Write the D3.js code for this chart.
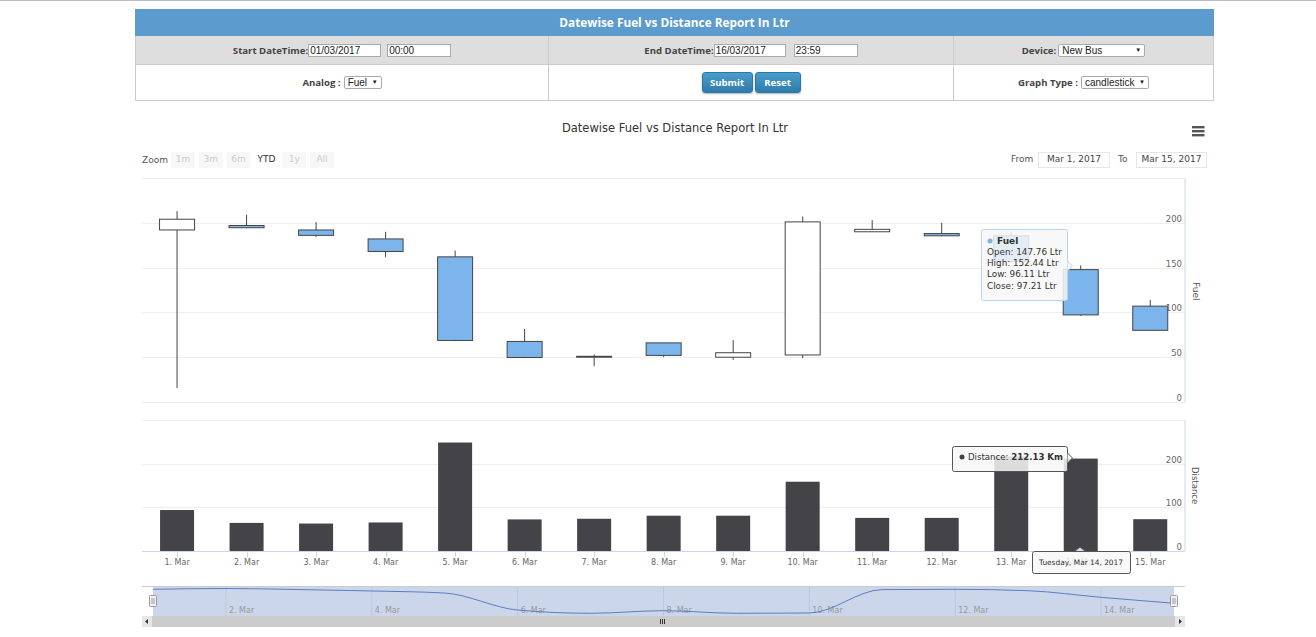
<!DOCTYPE html>
<html><head><meta charset="utf-8">
<script src="https://cdn.jsdelivr.net/npm/d3@7"></script>
<style>
html,body{margin:0;padding:0;background:#fff;overflow:hidden;width:1316px;height:637px;font-family:"DejaVu Sans",sans-serif}
#top{position:absolute;left:0;top:0;width:1316px;height:1px;background:#bbb}
#form{position:absolute;left:135px;top:9px;width:1079px;height:92px;box-sizing:border-box;border:1px solid #ccc;border-top:none}
.hd{position:absolute;left:-1px;top:0;width:1079px;height:27px;background:#5b9bcd;color:#fff;font:bold 11.8px/27px "Open Sans",sans-serif;text-align:center}
.row{position:absolute;left:0;width:1077px}
.c{position:absolute;top:0;height:100%;text-align:center;white-space:nowrap;font:bold 9.6px "Open Sans",sans-serif;color:#444;box-sizing:border-box;display:flex;align-items:center;justify-content:center}
.c+.c{border-left:1px solid #ccc}
.i{display:inline-block;box-sizing:border-box;height:13px;border:1px solid #aaa;background:#fff;font:10px/11px "Liberation Sans",sans-serif;color:#222;text-align:left;padding-left:1px;position:relative}
.sel{border-radius:2px}
.sel:after{content:"▼";position:absolute;right:3px;top:0;font-size:6px;color:#111}
.btn{display:inline-block;box-sizing:border-box;height:21px;border-radius:3px;background:linear-gradient(#4a9ccb,#2e7cad);border:1px solid #2b78a8;color:#fff;font:bold 9.6px/19px "Open Sans",sans-serif;text-align:center;box-shadow:0 1px 2px rgba(0,0,0,.3)}
svg{position:absolute;left:0;top:0}
</style></head><body>
<div id="top"></div>
<div id="form">
 <div class="hd">Datewise Fuel vs Distance Report In Ltr</div>
 <div class="row" style="top:27px;height:28px;background:#dedede;border-bottom:1px solid #ccc;box-sizing:content-box">
  <div class="c" style="left:0;width:412px">Start DateTime:<span class="i" style="width:73px">01/03/2017</span><span class="i" style="width:64px;margin-left:6px">00:00</span></div>
  <div class="c" style="left:412px;width:405px">End DateTime:<span class="i" style="width:72px">16/03/2017</span><span class="i" style="width:64px;margin-left:8px">23:59</span></div>
  <div class="c" style="left:817px;width:260px">Device:<span class="i sel" style="width:87px;margin-left:2px;padding-left:3px">New Bus</span></div>
 </div>
 <div class="row" style="top:56px;height:35px">
  <div class="c" style="left:0;width:412px">Analog :<span class="i sel" style="width:38px;margin-left:3px;padding-left:3px">Fuel</span></div>
  <div class="c" style="left:412px;width:405px"><span class="btn" style="width:51px">Submit</span><span class="btn" style="width:46px;margin-left:2px">Reset</span></div>
  <div class="c" style="left:817px;width:260px">Graph Type :<span class="i sel" style="width:68px;margin-left:3px;padding-left:3px">candlestick</span></div>
 </div>
</div>
<svg id="chart" width="1316" height="637"></svg>
<script>
const categories=["1. Mar","2. Mar","3. Mar","4. Mar","5. Mar","6. Mar","7. Mar","8. Mar","9. Mar","10. Mar","11. Mar","12. Mar","13. Mar","14. Mar","15. Mar"];
const fuelOpen =[192,197,192,182,162,67.6,51,66,50,52.5,190,188,185.5,147.76,107];
const fuelHigh =[213,209,200.8,190,169,81.5,53,66,69,207,203,200,190,152.44,114];
const fuelLow  =[15.6,194,184,161.5,68,49,40,50,47,49,190,185,157,96.11,80];
const fuelClose=[204,194.5,186,168,68.7,49.7,50,52,55,201,192.7,185.5,157,97.21,80];
const distance =[94,64.5,63,65.5,249,72.5,74,81,81,159,76,76,217,212.13,73];
const navLine  =[202.5,207.5,201,192,179,72,51.6,68,51.6,53.5,200.6,202.5,193.7,152,114.5];
const fuelTicks=[0,50,100,150,200];
const distTicks=[0,100,200];
const navLabels=["2. Mar","4. Mar","6. Mar","8. Mar","10. Mar","12. Mar","14. Mar"];

const svg=d3.select("#chart");
const FONT='"DejaVu Sans",sans-serif';
const txt=(x,y,s,o={})=>svg.append("text").attr("x",x).attr("y",y).text(s)
  .attr("font-family",FONT).attr("font-size",o.size||9).attr("fill",o.fill||"#666")
  .attr("text-anchor",o.anchor||"start").attr("font-weight",o.weight||null)
  .attr("transform",o.rot?`rotate(${o.rot} ${x} ${y})`:null);

txt(675,132,"Datewise Fuel vs Distance Report In Ltr",{size:11.5,fill:"#333",anchor:"middle"});
// menu
[126,130,134].forEach(y=>svg.append("rect").attr("x",1192).attr("y",y).attr("width",12.5).attr("height",2.4).attr("fill","#555"));
// range selector
txt(142,163,"Zoom",{size:9,fill:"#555"});
["1m","3m","6m","YTD","1y","All"].forEach((b,i)=>{
  const x=171+i*27.8;
  if(b!=="YTD")svg.append("rect").attr("x",x).attr("y",152).attr("width",24).attr("height",16).attr("fill","#f7f7f7");
  txt(x+12,162,b,{size:9,fill:b==="YTD"?"#333":"#ccc",anchor:"middle"});
});
txt(1011,162,"From",{size:9,fill:"#555"});
txt(1118,162,"To",{size:9,fill:"#555"});
[[1038,72,"Mar 1, 2017"],[1136,71,"Mar 15, 2017"]].forEach(([x,w,s])=>{
  svg.append("rect").attr("x",x+.5).attr("y",152.5).attr("width",w-1).attr("height",15).attr("fill","#fff").attr("stroke","#e6e6e6");
  txt(x+w/2,162,s,{size:9,fill:"#444",anchor:"middle"});
});

// scales
const x=d3.scaleLinear().domain([-0.5,14.5]).range([142.3,1185]);
const yF=d3.scaleLinear().domain([0,250]).range([402,178]);
const yD=d3.scaleLinear().domain([0,300]).range([551,420.3]);
const idx=categories.map((_,i)=>i);

// grid
const grid=svg.append("g").attr("stroke","#eeeeee").attr("shape-rendering","crispEdges");
[0,50,100,150,200,250].forEach(v=>grid.append("line").attr("x1",142).attr("x2",1185).attr("y1",Math.round(yF(v))).attr("y2",Math.round(yF(v))));
[100,200,300].forEach(v=>grid.append("line").attr("x1",142).attr("x2",1185).attr("y1",Math.round(yD(v))).attr("y2",Math.round(yD(v))));

// candles
const bw=35;
const cg=svg.append("g");
idx.forEach(i=>{
  const up=fuelClose[i]>fuelOpen[i], t=Math.max(fuelOpen[i],fuelClose[i]), b=Math.min(fuelOpen[i],fuelClose[i]);
  cg.append("line").attr("x1",x(i)).attr("x2",x(i)).attr("y1",yF(fuelHigh[i])).attr("y2",yF(fuelLow[i])).attr("stroke","#444").attr("stroke-width",1);
  cg.append("rect").attr("x",x(i)-bw/2).attr("y",yF(t)).attr("width",bw).attr("height",yF(b)-yF(t))
    .attr("fill",up?"#fff":"#7cb5ec").attr("stroke","#444").attr("stroke-width",1);
});
// bars
svg.append("g").selectAll("rect").data(idx).join("rect")
  .attr("x",i=>x(i)-17).attr("width",34).attr("y",i=>yD(distance[i])).attr("height",i=>551-yD(distance[i])).attr("fill","#434348");

// right axis lines
const axc="#ccd6eb";
svg.append("line").attr("x1",1185).attr("x2",1185).attr("y1",178).attr("y2",402).attr("stroke",axc);
svg.append("line").attr("x1",1185).attr("x2",1185).attr("y1",420).attr("y2",551).attr("stroke",axc);
svg.append("line").attr("x1",142).attr("x2",1185).attr("y1",551.5).attr("y2",551.5).attr("stroke",axc);
fuelTicks.forEach(v=>txt(1182,yF(v)-1,v,{size:8.5,anchor:"end"}));
distTicks.forEach(v=>txt(1182,yD(v)-1,v,{size:8.5,anchor:"end"}));
txt(1193,282,"Fuel",{size:9,rot:90,fill:"#555"});
txt(1192,467,"Distance",{size:8.5,rot:90,fill:"#555"});
// x axis
idx.forEach(i=>{
  svg.append("line").attr("x1",Math.round(x(i))+.5).attr("x2",Math.round(x(i))+.5).attr("y1",551).attr("y2",557).attr("stroke",axc);
  txt(x(i),565,categories[i],{size:8,anchor:"middle"});
});

// navigator
const nx=d3.scaleLinear().domain([0,14]).range([153,1174]);
const ny=d3.scaleLinear().domain([0,250]).range([621.5,581.75]);
svg.append("rect").attr("x",153).attr("y",587).attr("width",1021).attr("height",29).attr("fill","#ccd6eb");
svg.append("line").attr("x1",142).attr("x2",1185).attr("y1",586.5).attr("y2",586.5).attr("stroke","#ccc");
navLabels.forEach((s,k)=>{
  const i=1+2*k;
  svg.append("line").attr("x1",nx(i)).attr("x2",nx(i)).attr("y1",587).attr("y2",616).attr("stroke","#bcc6dc");
  txt(nx(i)+3,613,s,{size:8,fill:"#999"});
});
svg.append("path").attr("d",d3.line().x((_,i)=>nx(i)).y(d=>ny(d)).curve(d3.curveMonotoneX)(navLine))
  .attr("fill","none").attr("stroke","#5b7fc0").attr("stroke-width",1);
[153,1174].forEach(h=>{
  svg.append("rect").attr("x",h-3.5).attr("y",595.5).attr("width",7).attr("height",11).attr("rx",1).attr("fill","#f2f2f2").attr("stroke","#999");
  [-1,1].forEach(d=>svg.append("line").attr("x1",h+d).attr("x2",h+d).attr("y1",598).attr("y2",604).attr("stroke","#999"));
});
// scrollbar
svg.append("rect").attr("x",142).attr("y",616).attr("width",1043).attr("height",11).attr("fill","#cccccc");
[[142,"M148 619v5l-3-2.5z"],[1175,"M1179 619v5l3-2.5z"]].forEach(([bx,p])=>{
  svg.append("rect").attr("x",bx).attr("y",616).attr("width",10).attr("height",11).attr("fill","#e6e6e6");
  svg.append("path").attr("d",p).attr("fill","#333");
});
[660,662,664].forEach(px=>svg.append("line").attr("x1",px+.5).attr("x2",px+.5).attr("y1",619).attr("y2",624).attr("stroke","#333"));

// tooltips
function box(bxx,by,w,h,stroke,tipPts,opacity){
  const g=svg.append("g");
  g.append("rect").attr("x",bxx+.5).attr("y",by+.5).attr("width",w).attr("height",h).attr("rx",2).attr("fill","#f7f7f7").attr("fill-opacity",opacity).attr("stroke",stroke);
  g.append("path").attr("d",tipPts).attr("fill","#f7f7f7").attr("fill-opacity",opacity).attr("stroke",stroke);
}
box(981,229,86,71,"#b5d3f2","M1067.5 261l5 5-5 5",0.85);
svg.append("circle").attr("cx",990).attr("cy",241).attr("r",2.5).attr("fill","#7cb5ec");
txt(997,244,"Fuel",{size:9,fill:"#333",weight:"bold"});
["Open: 147.76 Ltr","High: 152.44 Ltr","Low: 96.11 Ltr","Close: 97.21 Ltr"].forEach((s,k)=>txt(987,255+k*11.2,s,{size:8.8,fill:"#333"}));
box(952,446,115,25,"#555","M1067.5 453l5 5-5 5",0.85);
svg.append("circle").attr("cx",962).attr("cy",457).attr("r",2.5).attr("fill","#434348");
const tt=txt(968,460,"Distance: ",{size:8.6,fill:"#333"});
tt.append("tspan").attr("font-weight","bold").text("212.13 Km");
box(1032,551,98,22,"#555","M1075 551l5-4 5 4",0.85);
txt(1081,565,"Tuesday, Mar 14, 2017",{size:7.4,fill:"#333",anchor:"middle"});
</script>
</body></html>
